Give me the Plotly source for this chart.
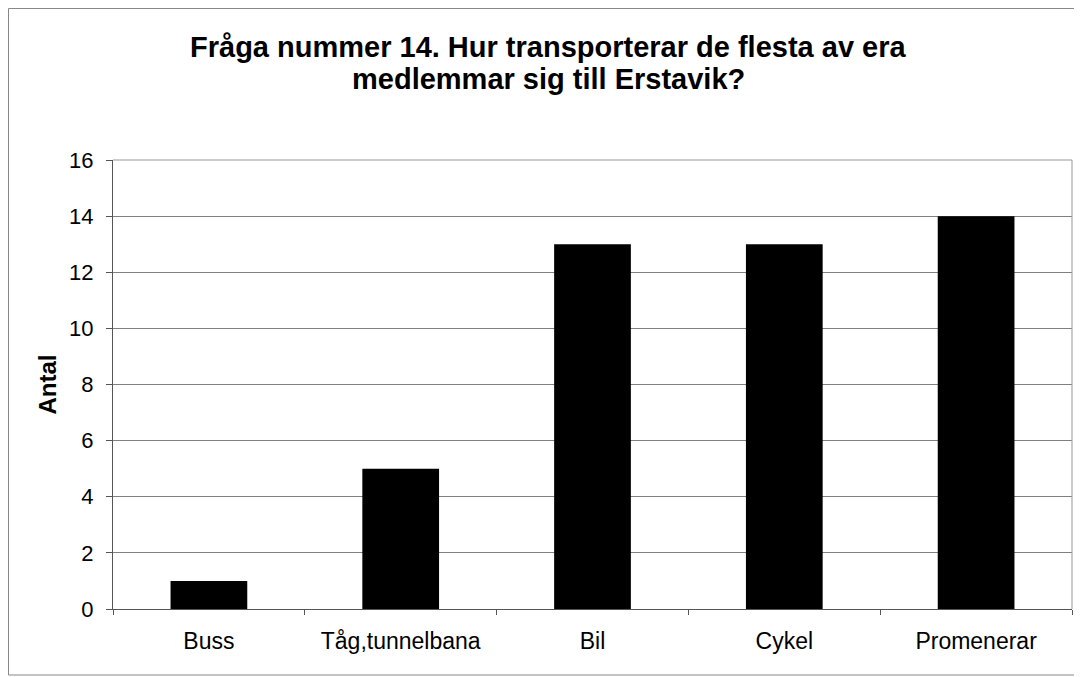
import plotly.graph_objects as go

categories = ["Buss", "Tåg,tunnelbana", "Bil", "Cykel", "Promenerar"]
values = [1, 5, 13, 13, 14]
y_ticks = [0, 2, 4, 6, 8, 10, 12, 14, 16]
title_lines = ["Fråga nummer 14. Hur transporterar de flesta av era", "medlemmar sig till Erstavik?"]

# page is offset by 8px (body margin); work in figure coordinates
W, H = 1074, 669
L, R, T, B = 105, 10, 152, 68
pw, ph = W - L - R, H - T - B

fig = go.Figure(go.Bar(x=categories, y=values, marker=dict(color="black", line=dict(width=0)), width=0.4))

def px(x):
    return (x - L) / pw

def py(y):
    return (H - B - y) / ph

annotations = []
for line, yc in zip(title_lines, [39, 71]):
    annotations.append(dict(
        text="<b>" + line + "</b>", xref="paper", yref="paper",
        x=px(W / 2 + 3), y=py(yc), xanchor="center", yanchor="middle",
        showarrow=False, font=dict(size=29, color="black"),
    ))

fig.update_layout(
    width=W, height=H,
    margin=dict(l=L, r=R, t=T, b=B),
    paper_bgcolor="white", plot_bgcolor="white",
    font=dict(family="Liberation Sans, Arial, sans-serif", color="black"),
    annotations=annotations,
    showlegend=False,
    xaxis=dict(
        showgrid=False, showline=True, linecolor="#555555", linewidth=1,
        tickfont=dict(size=23), ticks="outside", tickson="boundaries", ticklen=5,
        tickcolor="#555555", ticklabelstandoff=11,
    ),
    yaxis=dict(
        range=[0, 16], tickvals=y_ticks, showgrid=True, gridcolor="#808080", gridwidth=1,
        showline=True, linecolor="#555555", linewidth=1, ticks="outside", ticklen=6,
        tickcolor="#555555", tickfont=dict(size=22), zeroline=False, ticklabelstandoff=8,
        title=dict(text="<b>Antal</b>", font=dict(size=24), standoff=5),
    ),
    shapes=[
        dict(type="line", xref="paper", yref="paper", x0=0, x1=1, y0=1, y1=1,
             line=dict(color="#999999", width=1)),
        dict(type="line", xref="paper", yref="paper", x0=1, x1=1, y0=0, y1=1,
             line=dict(color="#999999", width=1)),
        dict(type="rect", xref="paper", yref="paper",
             x0=px(0.5), x1=px(1072), y0=py(667), y1=py(0.5),
             line=dict(color="#888888", width=1), fillcolor="rgba(0,0,0,0)", layer="below"),
    ],
)

fig.write_html("out.html")
